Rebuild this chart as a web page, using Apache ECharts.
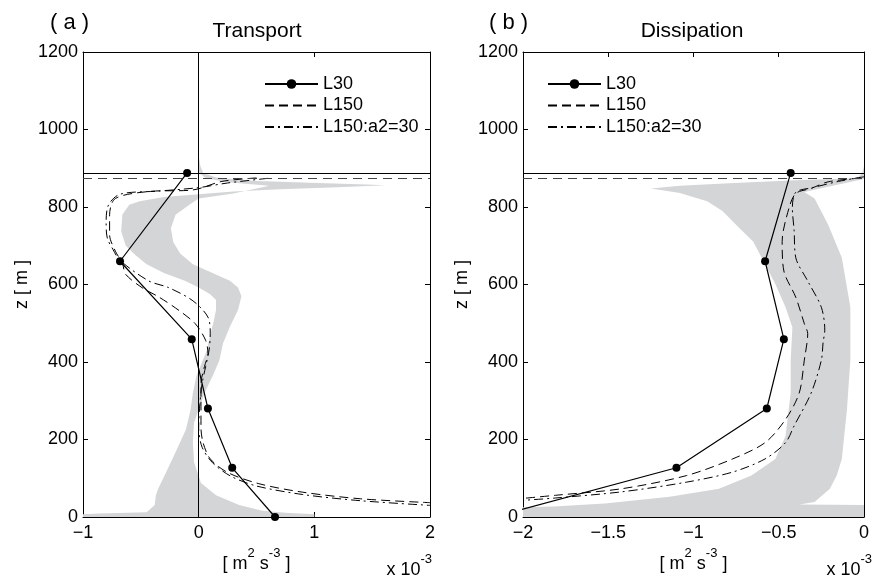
<!DOCTYPE html>
<html><head><meta charset="utf-8">
<script src="https://cdn.jsdelivr.net/npm/echarts@6/dist/echarts.min.js"></script>
<style>html,body{margin:0;padding:0;background:#fff}#c{width:872px;height:578px}</style>
</head><body><div id="c"></div>
<script>
// ---------- DATA ----------
const seriesNames = ['L30', 'L150', 'L150:a2=30'];
const surfaceL30 = 888;
const surfaceL150 = 875;

// Panel (a) Transport  (x in 1e-3 m^2 s^-3, z in m)
const L30a_x = [-0.10, -0.68, -0.06, 0.08, 0.29, 0.66];
const L30a_z = [888, 660, 459, 280, 127, 0];

const L150a_x = [0.50, 0.20, -0.05, -0.43, -0.72, -0.77, -0.77, -0.72, -0.66, -0.63, -0.49, -0.34, -0.17, -0.03, 0.06, 0.08, 0.05, 0.02, 0.02, 0.02, 0.04, 0.10, 0.25, 0.52, 0.90, 1.40, 2.00];
const L150a_z = [875, 866, 844, 840, 822, 780, 728, 686, 655, 626, 592, 567, 533, 499, 456, 422, 388, 345, 286, 230, 190, 150, 115, 86, 64, 47, 37];

const L150a2a_x = [0.60, 0.25, 0.00, -0.35, -0.68, -0.78, -0.80, -0.79, -0.74, -0.68, -0.43, -0.26, -0.05, 0.08, 0.10, 0.09, 0.06, 0.03, 0.01, 0.00, 0.03, 0.12, 0.28, 0.50, 0.90, 1.40, 2.00];
const L150a2a_z = [874, 862, 850, 841, 833, 805, 760, 720, 690, 662, 609, 592, 558, 516, 473, 431, 388, 345, 290, 230, 180, 140, 105, 80, 58, 42, 30];

// gray envelope, panel (a): outline vertices
const bandA_x = [0.00, 0.015, 0.04, 0.15, 0.50, 1.10, 1.45, 1.62, 1.20, 0.70, 0.30, 0.00, -0.30, -0.51, -0.60, -0.66, -0.67, -0.63, -0.55, -0.45, -0.30, -0.12, 0.00, 0.10, 0.15, 0.15, 0.13, 0.10, 0.07, 0.03, -0.02, -0.05, -0.07, -0.11, -0.20, -0.28, -0.35, -0.37, -0.38, -0.45, -0.86, -1.00, -1.00,
                 1.00, 1.00, 0.75, 0.55, 0.35, 0.15, 0.02, -0.04, -0.05, -0.04, 0.00, 0.05, 0.12, 0.18, 0.21, 0.27, 0.34, 0.37, 0.34, 0.27, 0.12, -0.05, -0.16, -0.22, -0.24, -0.20, -0.08, 0.00, 0.30, 0.61, 0.25, 0.06, 0.005, -0.005];
const bandA_z = [932, 905, 888, 876, 867, 861, 858, 856, 851, 846, 840, 833, 826, 815, 806, 780, 737, 700, 677, 652, 630, 610, 592, 575, 560, 534, 505, 470, 430, 400, 363, 320, 277, 226, 167, 116, 73, 56, 31, 12, 9, 7, 0,
                 0, 7, 11, 16, 31, 56, 88, 141, 192, 243, 277, 320, 363, 405, 448, 491, 534, 570, 592, 610, 630, 652, 680, 710, 745, 780, 806, 822, 835, 855, 864, 875, 888, 910];

// Panel (b) Dissipation
const L30b_x = [-0.43, -0.58, -0.47, -0.57, -1.10, -2.17];
const L30b_z = [888, 660, 459, 280, 127, 0];

const L150b_x = [-0.02, -0.21, -0.31, -0.40, -0.44, -0.48, -0.47, -0.40, -0.35, -0.33, -0.35, -0.38, -0.46, -0.58, -0.77, -1.04, -1.42, -1.81, -2.00];
const L150b_z = [875, 865, 848, 835, 797, 711, 635, 567, 499, 473, 405, 320, 252, 192, 150, 107, 73, 56, 48];

const L150a2b_x = [0.00, -0.15, -0.30, -0.40, -0.42, -0.41, -0.40, -0.33, -0.25, -0.23, -0.24, -0.25, -0.31, -0.41, -0.46, -0.58, -0.77, -1.04, -1.42, -1.81, -2.00];
const L150a2b_z = [878, 866, 850, 838, 797, 740, 669, 609, 541, 482, 450, 405, 320, 235, 192, 150, 116, 90, 65, 49, 43];

const bandB_x = [0.00, -0.01, -0.04, -0.40, -0.79, -1.08, -1.25, -1.08, -0.92, -0.83, -0.73, -0.65, -0.60, -0.52, -0.46, -0.42, -0.43, -0.43, -0.46, -0.52, -0.66, -0.85, -1.14, -1.52, -1.82, -2.00, -2.00,
                 0.00, 0.00, -0.38, -0.29, -0.20, -0.16, -0.13, -0.10, -0.08, -0.08, -0.08, -0.13, -0.21, -0.29, -0.35, -0.15, 0.00];
const bandB_z = [905, 888, 874, 869, 861, 855, 848, 836, 815, 790, 745, 711, 669, 601, 541, 490, 405, 320, 209, 150, 107, 73, 52, 35, 27, 25, 0,
                 0, 31, 32, 39, 73, 107, 150, 277, 405, 490, 541, 669, 754, 822, 839, 858, 872];

// axis ticks
const xTicksA = {min: -1, max: 2, interval: 1};
const xTicksB = {min: -2, max: 0, interval: 0.5};
const yTicks = {min: 0, max: 1200, interval: 200};

// ---------- CHART ----------
const FONT = '"Liberation Sans", Arial, Helvetica, sans-serif';
const zip = (xs, zs) => xs.map((x, i) => [x, zs[i]]);
const fmt = v => (v < 0 ? '\u2212' + String(-v) : String(v));
const GRAY = '#d4d5d7';

const unitName = '{n|[ m}{s|2}{n| s}{s|-3}{n| ]}';
const richUnit = {
  n: {fontSize: 18, fontFamily: FONT, color: '#000', lineHeight: 26, verticalAlign: 'bottom'},
  s: {fontSize: 13, fontFamily: FONT, color: '#000', lineHeight: 26, verticalAlign: 'top'}
};

function xAxisPair(grid, t) {
  const base = {
    gridIndex: grid, type: 'value', min: t.min, max: t.max, interval: t.interval,
    axisLine: {onZero: false, lineStyle: {color: '#000', width: 1}},
    axisTick: {inside: true, length: 5, lineStyle: {color: '#000'}},
    splitLine: {show: false}
  };
  return [
    Object.assign({}, base, {
      position: 'bottom',
      axisLabel: {formatter: fmt, fontSize: 18, fontFamily: FONT, color: '#000', margin: 7},
      name: unitName, nameLocation: 'middle', nameGap: 30,
      nameTextStyle: {rich: richUnit}
    }),
    Object.assign({}, base, {position: 'top', axisLabel: {show: false}})
  ];
}
function yAxisPair(grid) {
  const base = {
    gridIndex: grid, type: 'value', min: yTicks.min, max: yTicks.max, interval: yTicks.interval,
    axisLine: {onZero: false, lineStyle: {color: '#000', width: 1}},
    axisTick: {inside: true, length: 5, lineStyle: {color: '#000'}},
    splitLine: {show: false}
  };
  return [
    Object.assign({}, base, {
      position: 'left',
      axisLabel: {formatter: v => String(v), fontSize: 18, fontFamily: FONT, color: '#000', margin: 5},
      name: 'z [ m ]', nameLocation: 'middle', nameRotate: 90, nameGap: 52,
      nameTextStyle: {fontSize: 18, fontFamily: FONT, color: '#000'}
    }),
    Object.assign({}, base, {position: 'right', axisLabel: {show: false}})
  ];
}

function band(xs, zs, xi, yi) {
  return {
    type: 'custom', xAxisIndex: xi, yAxisIndex: yi, silent: true, z: 1, clip: true,
    data: zip(xs, zs), encode: {x: 0, y: 1},
    renderItem: function (params, api) {
      if (params.dataIndex !== 0) return null;
      const pts = xs.map((x, i) => api.coord([x, zs[i]]));
      return {type: 'polygon', shape: {points: pts}, style: {fill: GRAY}};
    }
  };
}

function lines(xi, yi, d30, d150, d150a2, withZeroLine) {
  const ml = [
    {yAxis: surfaceL30, lineStyle: {color: '#000', type: 'solid', width: 1}},
    {yAxis: surfaceL150, lineStyle: {color: '#444', type: [9, 6], width: 1}}
  ];
  if (withZeroLine) ml.push({xAxis: 0, lineStyle: {color: '#000', type: 'solid', width: 1}});
  return [
    {name: seriesNames[0], type: 'line', xAxisIndex: xi, yAxisIndex: yi, z: 3, data: d30,
     symbol: 'circle', symbolSize: 8, itemStyle: {color: '#000'},
     lineStyle: {color: '#000', width: 1.2},
     markLine: {symbol: 'none', silent: true, label: {show: false}, animation: false, data: ml}},
    {name: seriesNames[1], type: 'line', xAxisIndex: xi, yAxisIndex: yi, z: 2, data: d150,
     symbol: 'none', smooth: 0.3, itemStyle: {color: '#000', opacity: 0},
     lineStyle: {color: '#000', width: 1, type: [9, 5]}},
    {name: seriesNames[2], type: 'line', xAxisIndex: xi, yAxisIndex: yi, z: 2, data: d150a2,
     symbol: 'none', smooth: 0.3, itemStyle: {color: '#000', opacity: 0},
     lineStyle: {color: '#000', width: 1, type: [9, 4, 2, 4]}}
  ];
}

const legendBase = {
  orient: 'vertical', top: 70, itemWidth: 53, itemHeight: 12, itemGap: 3.5,
  selectedMode: false,
  data: [{name: seriesNames[0]},
         {name: seriesNames[1], itemStyle: {opacity: 0}},
         {name: seriesNames[2], itemStyle: {opacity: 0}}],
  textStyle: {fontSize: 18, fontFamily: FONT, color: '#000', padding: [0, 0, 0, 0]}
};

const supRich = {
  n: {fontSize: 18, fontFamily: FONT, fill: '#000', lineHeight: 26, verticalAlign: 'bottom'},
  s: {fontSize: 13, fontFamily: FONT, fill: '#000', lineHeight: 26, verticalAlign: 'top'}
};

const chart = echarts.init(document.getElementById('c'), null, {renderer: 'canvas'});
chart.setOption({
  animation: false,
  backgroundColor: '#fff',
  textStyle: {fontFamily: FONT},
  grid: [
    {left: 83, top: 52, width: 347, height: 470},
    {left: 523, top: 52, width: 347, height: 470}
  ],
  xAxis: [...xAxisPair(0, xTicksA), ...xAxisPair(1, xTicksB)],
  yAxis: [...yAxisPair(0), ...yAxisPair(1)],
  legend: [
    Object.assign({}, legendBase, {left: 259}),
    Object.assign({}, legendBase, {left: 542})
  ],
  graphic: [
    {type: 'text', x: 50, y: 23, style: {text: '( a )', font: '22px ' + FONT, fill: '#000', textVerticalAlign: 'middle'}},
    {type: 'text', x: 257, y: 31, style: {text: 'Transport', font: '21px ' + FONT, fill: '#000', textAlign: 'center', textVerticalAlign: 'middle'}},
    {type: 'text', x: 489, y: 23, style: {text: '( b )', font: '22px ' + FONT, fill: '#000', textVerticalAlign: 'middle'}},
    {type: 'text', x: 692, y: 31, style: {text: 'Dissipation', font: '21px ' + FONT, fill: '#000', textAlign: 'center', textVerticalAlign: 'middle'}},
    {type: 'text', x: 432, y: 566, style: {text: '{n|x 10}{s|-3}', rich: supRich, textAlign: 'right', textVerticalAlign: 'middle'}},
    {type: 'text', x: 872, y: 566, style: {text: '{n|x 10}{s|-3}', rich: supRich, textAlign: 'right', textVerticalAlign: 'middle'}}
  ],
  series: [
    band(bandA_x, bandA_z, 0, 0),
    ...lines(0, 0, zip(L30a_x, L30a_z), zip(L150a_x, L150a_z), zip(L150a2a_x, L150a2a_z), true),
    band(bandB_x, bandB_z, 2, 2),
    ...lines(2, 2, zip(L30b_x, L30b_z), zip(L150b_x, L150b_z), zip(L150a2b_x, L150a2b_z), false)
  ]
});
</script></body></html>
